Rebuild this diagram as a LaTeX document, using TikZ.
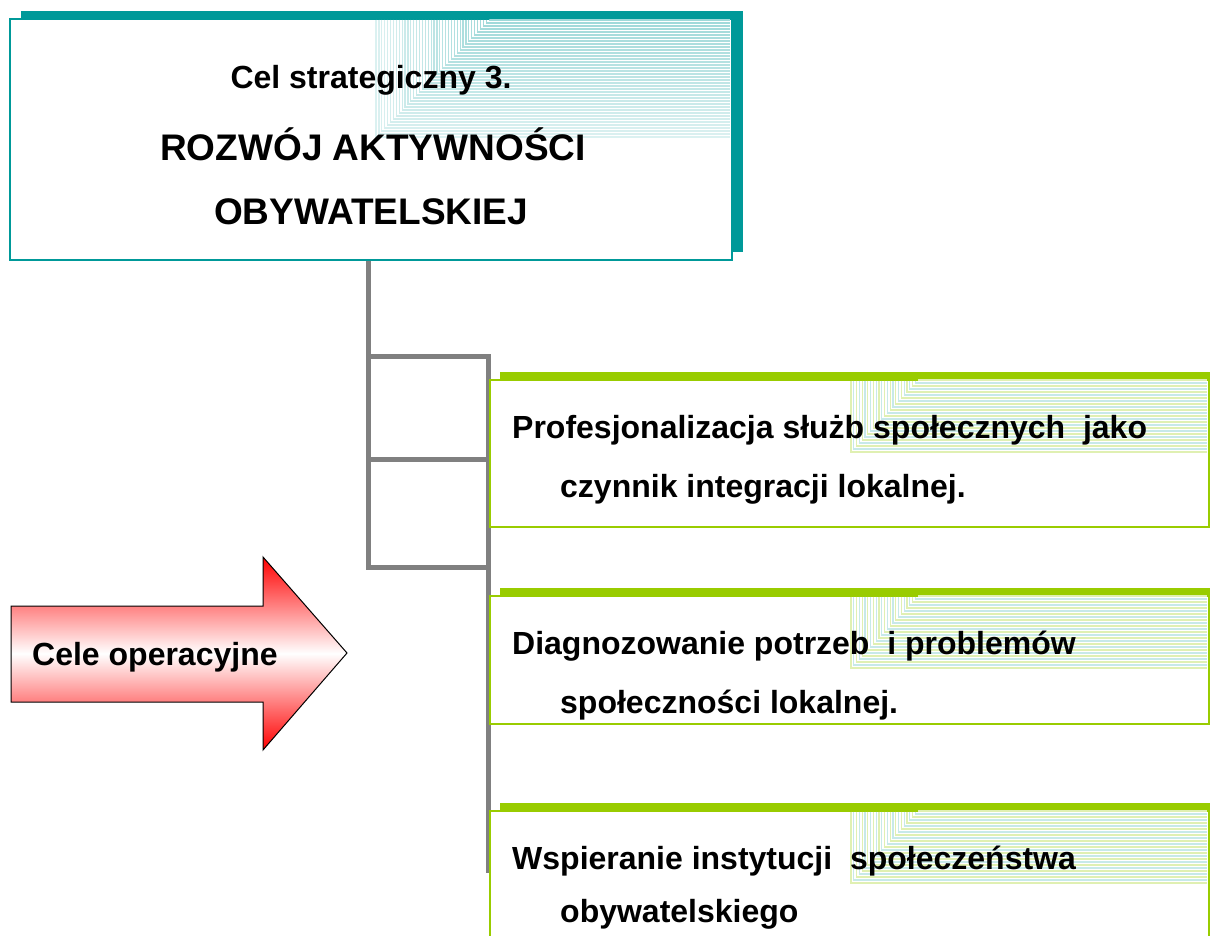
\documentclass[tikz,border=0pt]{standalone}
\usepackage{fontspec}
\setmainfont{Liberation Sans}
\usetikzlibrary{shadows}
\definecolor{tealc}{HTML}{009999}
\definecolor{greenc}{HTML}{99CC00}
\definecolor{grayc}{HTML}{808080}
\definecolor{redc}{HTML}{FF0000}
\begin{document}
\begin{tikzpicture}[x=1pt,y=-1pt,
  conn/.style={draw=grayc, line width=5pt},
  tbox/.style={draw=tealc, fill=white, line width=1.5pt, inner sep=0pt, anchor=north west,
    general shadow={fill=tealc, shadow xshift=11pt, shadow yshift=8pt}},
  gbox/.style={draw=greenc, fill=white, line width=1.5pt, inner sep=0pt, anchor=north west,
    general shadow={fill=greenc, shadow xshift=10pt, shadow yshift=8pt}},
  txt/.style={font=\bfseries\fontsize{32}{38}\selectfont, inner sep=0pt, anchor=base west},
  ttl/.style={font=\bfseries\fontsize{37}{44}\selectfont, inner sep=0pt, anchor=base},
  arrowshape/.style={draw=black, line width=1pt, top color=redc, bottom color=redc, middle color=white}
]
\useasboundingbox (0,0) rectangle (1210,935);
\clip (0,0) rectangle (1210,935);

% top box
\node[tbox, minimum width=722pt, minimum height=241pt] (topbox) at (9,18) {};
\foreach \i in {0,...,39}{
  \pgfmathsetmacro\yy{137-3*\i}
  \pgfmathsetmacro\xx{376+2.9*\i}
  \pgfmathsetmacro\pc{14+0.6*\i}
  \draw[tealc!\pc, line width=1.2pt] (\xx,19.5) -- (\xx,\yy) -- (729.5,\yy);
}
\node[txt, anchor=base] (cel) at (371,88) {Cel strategiczny 3.};
\node[ttl] (title1) at (373,160) {ROZWÓJ AKTYWNOŚCI};
\node[ttl] (title2) at (371,224) {OBYWATELSKIEJ};

% connectors
\coordinate (j1) at (368,356);
\coordinate (j2) at (368,459);
\coordinate (j3) at (368,567);
\coordinate (r1) at (488,356);
\coordinate (r2) at (488,459);
\coordinate (r3) at (488,567);
\coordinate (rend) at (488,873);
\draw[conn] (topbox.south -| j1) -- (j3) -- (r3);
\draw[conn] (j1) -- (r1) -- (rend);
\draw[conn] (j2) -- (r2);

% green boxes
\node[gbox, minimum width=719pt, minimum height=147pt] (g1) at (489,379) {};
\node[gbox, minimum width=719pt, minimum height=128pt] (g2) at (489,595) {};
\node[gbox, minimum width=719pt, minimum height=160pt] (g3) at (489,810) {};

\foreach \t in {379,595,810}{
  \foreach \i in {0,...,24}{
    \pgfmathsetmacro\yy{\t+73-3*\i}
    \pgfmathsetmacro\xx{851+2.8*\i}
    \pgfmathtruncatemacro\odd{mod(\i,2)}
    \ifnum\odd=0
      \draw[greenc!30, line width=1.2pt] (\xx,\t+1.5) -- (\xx,\yy) -- (1206.5,\yy);
    \else
      \draw[tealc!22, line width=1.2pt] (\xx,\t+1.5) -- (\xx,\yy) -- (1206.5,\yy);
    \fi
  }
}

\node[txt] (p1) at (512,438) {Profesjonalizacja służb społecznych\ \ jako};
\node[txt] (p2) at (560,497) {czynnik integracji lokalnej.};
\node[txt] (d1) at (512,654) {Diagnozowanie potrzeb\ \ i problemów};
\node[txt] (d2) at (560,713) {społeczności lokalnej.};
\node[txt] (w1) at (512,869) {Wspieranie instytucji\ \ społeczeństwa};
\node[txt] (w2) at (560,922) {obywatelskiego};

% arrow
\draw[arrowshape] (11,606) -- (263,606) -- (263,557) -- (347,653) -- (263,750) -- (263,702) -- (11,702) -- cycle;
\node[txt] (ops) at (32,665) {Cele operacyjne};
\end{tikzpicture}
\end{document}
